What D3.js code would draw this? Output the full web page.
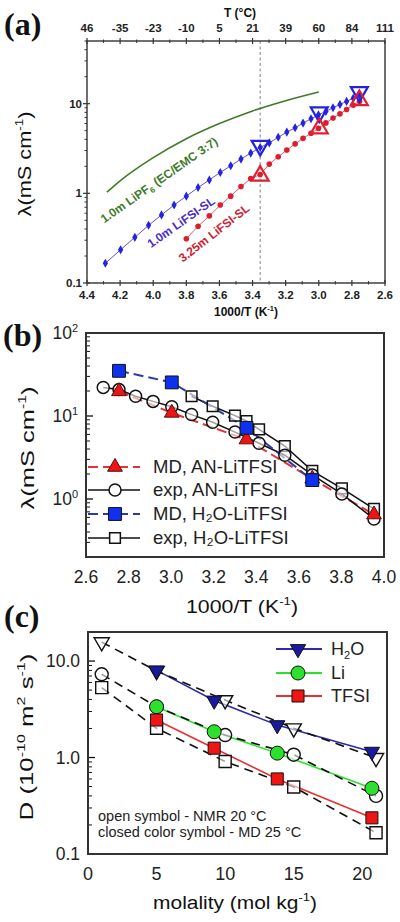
<!DOCTYPE html>
<html><head><meta charset="utf-8">
<script src="https://cdn.jsdelivr.net/npm/d3@7"></script>
<style>body{margin:0;background:#fff}svg{display:block}text{font-family:"Liberation Sans",Arial,sans-serif}</style>
</head><body><svg id="c" width="400" height="922"></svg>
<script>
// ---------- Panel (a) data ----------
const aXTicks = [4.4, 4.2, 4.0, 3.8, 3.6, 3.4, 3.2, 3.0, 2.8, 2.6];
const aXTickLabels = ["4.4","4.2","4.0","3.8","3.6","3.4","3.2","3.0","2.8","2.6"];
const aTopLabels = ["46","-35","-23","-10","5","21","39","60","84","111"];
const aYTicks = [0.1, 1, 10];
const aYTickLabels = ["0.1","1","10"];
const aRefX = 3.354;
const lipfX = [4.28, 4.2, 4.0, 3.8, 3.6, 3.4, 3.2, 3.0];
const lipfY = [1.03, 1.38, 2.5, 4.07, 6.0, 8.3, 10.8, 13.5];
const lifsi1X = [4.289,4.197,4.111,4.028,3.950,3.874,3.800,3.729,3.661,3.595,3.532,3.470,3.411,3.354,3.299,3.245,3.193,3.143,3.095,3.047,3.002,2.957,2.914,2.872,2.832,2.792,2.754];
const lifsi1Y = [0.166,0.235,0.323,0.44,0.575,0.74,0.93,1.16,1.41,1.71,2.03,2.41,2.81,3.25,3.65,4.22,4.82,5.38,6.07,6.78,7.5,8.2,9.0,9.8,10.6,11.5,12.4];
const lifsi3X = [3.800,3.729,3.661,3.595,3.532,3.470,3.411,3.354,3.299,3.245,3.193,3.143,3.095,3.047,3.002,2.957,2.914,2.872,2.832,2.792,2.754];
const lifsi3Y = [0.312,0.43,0.56,0.74,0.93,1.19,1.46,1.62,2.12,2.56,3.04,3.56,4.11,4.68,5.3,6.1,6.9,7.7,8.6,9.6,10.6];
const triBlueX = [3.354, 2.997, 2.755];
const triBlueY = [3.4, 8.0, 13.5];
const triRedX = [3.354, 2.997, 2.755];
const triRedY = [1.57, 5.3, 10.9];

// ---------- Panel (b) data ----------
const bXTicks = [2.6, 2.8, 3.0, 3.2, 3.4, 3.6, 3.8, 4.0];
const bXTickLabels = ["2.6","2.8","3.0","3.2","3.4","3.6","3.8","4.0"];
const bYTicks = [1, 10, 100];
const bYTickExp = ["0","1","2"];
const mdAnX = [2.755, 3.003, 3.354, 3.663, 3.953];
const mdAnY = [19.8, 10.9, 5.2, 1.75, 0.65];
const expAnX = [2.681, 2.755, 2.833, 2.915, 3.003, 3.096, 3.195, 3.300, 3.413, 3.534, 3.663, 3.802, 3.953];
const expAnY = [22.1, 20.8, 17.3, 15.0, 12.9, 10.4, 8.4, 6.4, 4.69, 3.37, 1.95, 1.15, 0.575];
const mdH2oX = [2.755, 3.003, 3.354, 3.663];
const mdH2oY = [35, 25.4, 7.2, 1.69];
const expH2oX = [3.096, 3.195, 3.300, 3.354, 3.413, 3.534, 3.663, 3.802, 3.953];
const expH2oY = [17.3, 13.1, 10.1, 8.7, 6.9, 4.35, 2.18, 1.34, 0.76];
const bLegend = ["MD, AN-LiTFSI", "exp, AN-LiTFSI", "MD, H₂O-LiTFSI", "exp, H₂O-LiTFSI"];

// ---------- Panel (c) data ----------
const cXTicks = [0, 5, 10, 15, 20];
const cYTicks = [0.1, 1, 10];
const cYTickLabels = ["0.1","1.0","10.0"];
const nmrX = [1, 5, 10, 15, 21];
const nmrH2o = [15.7, 7.9, 3.94, 2.01, 0.99];
const nmrLi = [7.3, 3.36, 1.71, 1.07, 0.40];
const nmrTfsi = [5.3, 2.01, 0.91, 0.495, 0.166];
const mdX = [5, 9.2, 13.8, 20.7];
const mdH2o = [8.0, 3.9, 2.17, 1.15];
const mdLi = [3.36, 1.85, 1.11, 0.48];
const mdTfsi = [2.45, 1.25, 0.60, 0.237];
const cLegend = ["H2O", "Li", "TFSI"];

const svg = d3.select("#c");
const FR = "#333";

function minorLogVals(lo, hi){
  const out=[];
  for(let d=Math.pow(10,Math.floor(Math.log10(lo))); d<hi; d*=10){
    for(let k=2;k<=9;k++){const v=k*d; if(v>=lo*0.999 && v<=hi*1.001) out.push(v);}
  }
  return out;
}
function vline(g,x,y1,y2,w,c){g.append("line").attr("x1",x).attr("x2",x).attr("y1",y1).attr("y2",y2).attr("stroke",c||FR).attr("stroke-width",w||1);}
function hline(g,y,x1,x2,w,c){g.append("line").attr("y1",y).attr("y2",y).attr("x1",x1).attr("x2",x2).attr("stroke",c||FR).attr("stroke-width",w||1);}
function frame(g,x,y,w){
  const [x0,x1]=x.range(), [y0,y1]=y.range();
  g.append("rect").attr("x",Math.min(x0,x1)).attr("y",Math.min(y0,y1)).attr("width",Math.abs(x1-x0)).attr("height",Math.abs(y1-y0))
   .attr("fill","none").attr("stroke",FR).attr("stroke-width",w);
}
function fitScale(t, len){
  const w = t.node().getComputedTextLength();
  return len/w;
}
function rotTitle(g, cx, cy, parts, size, len){
  const t = g.append("text").attr("text-anchor","middle").attr("font-size",size).attr("fill","#111");
  parts.forEach(p=>{
    const s=t.append("tspan").text(p.t);
    if(p.sup){s.attr("font-size",size*0.62).attr("dy",-size*0.4);} else if(p.after){s.attr("dy",size*0.4);}
  });
  const k = fitScale(t,len);
  t.attr("transform",`translate(${cx},${cy}) rotate(-90) scale(${k},1)`);
  t.attr("y", size*0.35);
  return t;
}
function hTitle(g, cx, by, parts, size, len, weight){
  const t = g.append("text").attr("text-anchor","middle").attr("font-size",size).attr("fill","#111").attr("font-weight",weight||"normal");
  parts.forEach(p=>{
    const s=t.append("tspan").text(p.t);
    if(p.sup){s.attr("font-size",size*0.62).attr("dy",-size*0.4);} else if(p.after){s.attr("dy",size*0.4);}
  });
  const k = len? fitScale(t,len):1;
  t.attr("transform",`translate(${cx},${by}) scale(${k},1)`);
  return t;
}
function panelLabel(x,y,s){
  svg.append("text").attr("x",x).attr("y",y)
    .style("font-family","'Liberation Serif','DejaVu Serif','Times New Roman',serif")
    .attr("font-weight","bold").attr("font-size",32).attr("fill","#111").text(s);
}

// ================= Panel (a) =================
{
  const x = d3.scaleLinear().domain([4.4,2.6]).range([87,385]);
  const y = d3.scaleLog().domain([0.1,50]).range([283,41]);
  const g = svg.append("g");
  const [yb, yt] = y.range();
  const [xl, xr] = x.range();
  g.append("line").attr("x1",x(aRefX)).attr("x2",x(aRefX)).attr("y1",yt).attr("y2",yb).attr("stroke","#777").attr("stroke-width",0.9).attr("stroke-dasharray","3,2.5");
  aXTicks.forEach((v,i)=>{
    vline(g,x(v),yb-3,yb+3,1.2); vline(g,x(v),yt-3,yt+3,1.2);
    g.append("text").attr("x",x(v)).attr("y",yb+16).attr("text-anchor","middle").attr("font-size",11.5).attr("font-weight","bold").attr("fill","#222").text(aXTickLabels[i]);
    g.append("text").attr("x",x(v)).attr("y",yt-9).attr("text-anchor","middle").attr("font-size",11.5).attr("font-weight","bold").attr("fill","#222").text(aTopLabels[i]);
  });
  d3.range(4.3,2.6,-0.2).forEach(v=>{vline(g,x(v),yb-2,yb+1.5,1); vline(g,x(v),yt-1.5,yt+2,1);});
  aYTicks.forEach((v,i)=>{
    hline(g,y(v),xl-4,xl+3,1.2);
    g.append("text").attr("x",xl-5).attr("y",y(v)).attr("dy","0.35em").attr("text-anchor","end").attr("font-size",11.5).attr("font-weight","bold").attr("fill","#222").text(aYTickLabels[i]);
  });
  minorLogVals(0.1,50).forEach(v=>hline(g,y(v),xl-2.5,xl,1));
  frame(g,x,y,1.4);
  hTitle(g,240,17,[{t:"T (°C)"}],12,null,"bold");
  hTitle(g,246,316,[{t:"1000/T (K"},{t:"-1",sup:true},{t:")",after:true}],12,null,"bold");
  rotTitle(g,24,164,[{t:"λ(mS cm"},{t:"-1",sup:true},{t:")",after:true}],19,105);
  g.append("path").datum(lipfX.map((v,i)=>[v,lipfY[i]])).attr("fill","none").attr("stroke","#3f7a2a").attr("stroke-width",1.6)
    .attr("d",d3.line().x(d=>x(d[0])).y(d=>y(d[1])).curve(d3.curveMonotoneX));
  const d1 = lifsi1X.map((v,i)=>[v,lifsi1Y[i]]);
  g.append("path").datum(d1).attr("fill","none").attr("stroke","#6a4fd0").attr("stroke-width",1)
    .attr("d",d3.line().x(d=>x(d[0])).y(d=>y(d[1])));
  g.selectAll(".dm").data(d1).join("path").attr("transform",d=>`translate(${x(d[0])},${y(d[1])})`)
    .attr("d",d3.symbol(d3.symbolDiamond,24)).attr("fill","#2323e0");
  const d3m = lifsi3X.map((v,i)=>[v,lifsi3Y[i]]);
  g.append("path").datum(d3m).attr("fill","none").attr("stroke","#e06070").attr("stroke-width",1)
    .attr("d",d3.line().x(d=>x(d[0])).y(d=>y(d[1])));
  g.selectAll(".rc").data(d3m).join("circle").attr("cx",d=>x(d[0])).attr("cy",d=>y(d[1])).attr("r",2.8).attr("fill","#dd1c2c");
  triBlueX.forEach((v,i)=>{
    g.append("path").attr("transform",`translate(${x(v)},${y(triBlueY[i])}) rotate(180)`).attr("d",d3.symbol(d3.symbolTriangle,125)).attr("fill","none").attr("stroke","#2222dd").attr("stroke-width",2.2);
  });
  triRedX.forEach((v,i)=>{
    g.append("path").attr("transform",`translate(${x(v)},${y(triRedY[i])})`).attr("d",d3.symbol(d3.symbolTriangle,125)).attr("fill","none").attr("stroke","#e02030").attr("stroke-width",2.2);
  });
  const l1 = g.append("text").attr("transform","translate(159,180) rotate(-35)").attr("text-anchor","middle").attr("dy","0.35em").attr("font-size",12).attr("font-weight","bold").attr("fill","#3f7a2a");
  l1.append("tspan").text("1.0m LiPF");
  l1.append("tspan").text("6").attr("font-size",8).attr("dy",3);
  l1.append("tspan").text(" (EC/EMC 3:7)").attr("dy",-3);
  g.append("text").attr("transform","translate(181,222) rotate(-35)").attr("text-anchor","middle").attr("dy","0.35em").attr("font-size",12).attr("font-weight","bold").attr("fill","#4a2ac8").text("1.0m LiFSI-SL");
  g.append("text").attr("transform","translate(214,233) rotate(-38)").attr("text-anchor","middle").attr("dy","0.35em").attr("font-size",12).attr("font-weight","bold").attr("fill","#d0202e").text("3.25m LiFSI-SL");
}
panelLabel(4,35,"(a)");

// ================= Panel (b) =================
{
  const x = d3.scaleLinear().domain([2.6,4.0]).range([86,384]);
  const y = d3.scaleLog().domain([0.2,100]).range([557,333]);
  const g = svg.append("g");
  const [xl] = x.range(); const [yb] = y.range();
  bXTicks.forEach((v,i)=>{
    g.append("text").attr("x",x(v)).attr("y",yb+26).attr("text-anchor","middle").attr("font-size",17.5).attr("fill","#222").text(bXTickLabels[i]);
  });
  bYTicks.forEach((v,i)=>{
    hline(g,y(v),xl,xl+7,1.3,"#111");
    const t=g.append("text").attr("x",xl-8).attr("y",y(v)+6).attr("text-anchor","end").attr("font-size",17.5).attr("fill","#222");
    t.append("tspan").text("10"); t.append("tspan").text(bYTickExp[i]).attr("font-size",11).attr("dy",-7);
  });
  minorLogVals(0.2,100).forEach(v=>hline(g,y(v),xl,xl+4,1,"#111"));
  frame(g,x,y,2);
  hTitle(g,242,613,[{t:"1000/T (K"},{t:"-1",sup:true},{t:")",after:true}],19,112);
  rotTitle(g,27,448,[{t:"λ(mS cm"},{t:"-1",sup:true},{t:")",after:true}],19,123);
  const line = d3.line().x(d=>x(d[0])).y(d=>y(d[1]));
  const dMdAn = mdAnX.map((v,i)=>[v,mdAnY[i]]);
  const dExpAn = expAnX.map((v,i)=>[v,expAnY[i]]);
  const dMdH = mdH2oX.map((v,i)=>[v,mdH2oY[i]]);
  const dExpH = expH2oX.map((v,i)=>[v,expH2oY[i]]);
  g.append("path").datum(dMdAn).attr("d",line).attr("fill","none").attr("stroke","#e03535").attr("stroke-width",2).attr("stroke-dasharray","10,5");
  g.append("path").datum(dExpAn).attr("d",line).attr("fill","none").attr("stroke","#111").attr("stroke-width",1.5);
  g.append("path").datum(dExpH).attr("d",line).attr("fill","none").attr("stroke","#111").attr("stroke-width",1.5);
  g.append("path").datum(dMdH).attr("d",line).attr("fill","none").attr("stroke","#2a3aa8").attr("stroke-width",2).attr("stroke-dasharray","10,5");
  const tri = d3.symbol(d3.symbolTriangle,95), sq = d3.symbol(d3.symbolSquare,165), sqo=d3.symbol(d3.symbolSquare,115);
  g.selectAll(".eh").data(dExpH).join("path").attr("transform",d=>`translate(${x(d[0])},${y(d[1])})`).attr("d",sqo).attr("fill","#fff").attr("fill-opacity",0.6).attr("stroke","#111").attr("stroke-width",1.5);
  g.selectAll(".ea").data(dExpAn).join("circle").attr("cx",d=>x(d[0])).attr("cy",d=>y(d[1])).attr("r",6).attr("fill","#fff").attr("fill-opacity",0.6).attr("stroke","#111").attr("stroke-width",1.5);
  g.selectAll(".ma").data(dMdAn).join("path").attr("transform",d=>`translate(${x(d[0])},${y(d[1])})`).attr("d",tri).attr("fill","#ee1414").attr("stroke","#551111").attr("stroke-width",1);
  g.selectAll(".mh").data(dMdH).join("path").attr("transform",d=>`translate(${x(d[0])},${y(d[1])})`).attr("d",sq).attr("fill","#1030f0").attr("stroke","#111").attr("stroke-width",1);
  const rows=[467,490,514,538];
  const styles=[
    {c:"#e03535",dash:"10,5",m:"tri"},{c:"#111",dash:null,m:"circ"},{c:"#2a3aa8",dash:"10,5",m:"sq"},{c:"#111",dash:null,m:"sqo"}];
  bLegend.forEach((s,i)=>{
    const yy=rows[i], st=styles[i];
    const l=g.append("line").attr("x1",88).attr("x2",140).attr("y1",yy).attr("y2",yy).attr("stroke",st.c).attr("stroke-width",st.dash?2:1.5);
    if(st.dash) l.attr("stroke-dasharray",st.dash);
    if(st.m==="tri") g.append("path").attr("transform",`translate(115,${yy})`).attr("d",tri).attr("fill","#ee1414").attr("stroke","#551111");
    if(st.m==="circ") g.append("circle").attr("cx",115).attr("cy",yy).attr("r",6).attr("fill","#fff").attr("stroke","#111").attr("stroke-width",1.5);
    if(st.m==="sq") g.append("path").attr("transform",`translate(115,${yy})`).attr("d",sq).attr("fill","#1030f0").attr("stroke","#111");
    if(st.m==="sqo") g.append("path").attr("transform",`translate(115,${yy})`).attr("d",sqo).attr("fill","#fff").attr("stroke","#111").attr("stroke-width",1.5);
    g.append("text").attr("x",153).attr("y",yy+6).attr("font-size",18.5).attr("fill","#222").text(s);
  });
}
panelLabel(3,346,"(b)");

// ================= Panel (c) =================
{
  const x = d3.scaleLinear().domain([0,21.8]).range([88,387]);
  const y = d3.scaleLog().domain([0.1,20]).range([854,632]);
  const g = svg.append("g");
  const [xl] = x.range(); const [yb] = y.range();
  cXTicks.forEach(v=>{
    g.append("text").attr("x",x(v)).attr("y",yb+26).attr("text-anchor","middle").attr("font-size",18).attr("fill","#222").text(v);
  });
  cYTicks.forEach((v,i)=>{
    hline(g,y(v),xl,xl+7,1.3,"#111");
    g.append("text").attr("x",xl-8).attr("y",y(v)+6).attr("text-anchor","end").attr("font-size",17.5).attr("fill","#222").text(cYTickLabels[i]);
  });
  minorLogVals(0.1,20).forEach(v=>hline(g,y(v),xl,xl+4,1,"#111"));
  frame(g,x,y,2);
  hTitle(g,235,909,[{t:"molality (mol kg"},{t:"-1",sup:true},{t:")",after:true}],19,164);
  rotTitle(g,26,737,[{t:"D (10"},{t:"-10",sup:true},{t:" m",after:true},{t:"2",sup:true},{t:" s",after:true},{t:"-1",sup:true},{t:")",after:true}],19,167);
  const line = d3.line().x(d=>x(d[0])).y(d=>y(d[1]));
  const triD = d3.symbol(d3.symbolTriangle,100), sq=d3.symbol(d3.symbolSquare,145);
  const nmr=[nmrH2o,nmrLi,nmrTfsi], md=[mdH2o,mdLi,mdTfsi];
  const cols=[{l:"#2c2ca8",f:"#1a1a9e"},{l:"#2ee02e",f:"#2ee02e"},{l:"#e83030",f:"#f01515"}];
  md.forEach((arr,k)=>{
    g.append("path").datum(mdX.map((v,i)=>[v,arr[i]])).attr("d",line).attr("fill","none").attr("stroke",cols[k].l).attr("stroke-width",1.6);
  });
  nmr.forEach(arr=>{
    g.append("path").datum(nmrX.map((v,i)=>[v,arr[i]])).attr("d",line).attr("fill","none").attr("stroke","#111").attr("stroke-width",1.6).attr("stroke-dasharray","9,6");
  });
  nmrX.forEach((v,i)=>{
    g.append("path").attr("transform",`translate(${x(v)},${y(nmrH2o[i])}) rotate(180)`).attr("d",triD).attr("fill","#fff").attr("fill-opacity",0.6).attr("stroke","#111").attr("stroke-width",1.4);
    g.append("circle").attr("cx",x(v)).attr("cy",y(nmrLi[i])).attr("r",6.5).attr("fill","#fff").attr("fill-opacity",0.6).attr("stroke","#111").attr("stroke-width",1.4);
    g.append("path").attr("transform",`translate(${x(v)},${y(nmrTfsi[i])})`).attr("d",sq).attr("fill","#fff").attr("fill-opacity",0.6).attr("stroke","#111").attr("stroke-width",1.4);
  });
  mdX.forEach((v,i)=>{
    g.append("path").attr("transform",`translate(${x(v)},${y(mdH2o[i])}) rotate(180)`).attr("d",triD).attr("fill",cols[0].f).attr("stroke","#111").attr("stroke-width",1);
    g.append("circle").attr("cx",x(v)).attr("cy",y(mdLi[i])).attr("r",7).attr("fill",cols[1].f).attr("stroke","#111").attr("stroke-width",1);
    g.append("path").attr("transform",`translate(${x(v)},${y(mdTfsi[i])})`).attr("d",sq).attr("fill",cols[2].f).attr("stroke","#111").attr("stroke-width",1);
  });
  const rows=[649,673,696];
  cLegend.forEach((s,k)=>{
    const yy=rows[k];
    g.append("line").attr("x1",276).attr("x2",322).attr("y1",yy).attr("y2",yy).attr("stroke",cols[k].l).attr("stroke-width",1.8);
    if(k===0) g.append("path").attr("transform",`translate(298,${yy}) rotate(180)`).attr("d",triD).attr("fill",cols[0].f).attr("stroke","#111");
    if(k===1) g.append("circle").attr("cx",298).attr("cy",yy).attr("r",7).attr("fill",cols[1].f).attr("stroke","#111");
    if(k===2) g.append("path").attr("transform",`translate(298,${yy})`).attr("d",sq).attr("fill",cols[2].f).attr("stroke","#111");
    const t=g.append("text").attr("x",331).attr("y",yy+6).attr("font-size",18).attr("fill","#222");
    if(s==="H2O"){t.append("tspan").text("H");t.append("tspan").text("2").attr("font-size",11).attr("dy",4);t.append("tspan").text("O").attr("dy",-4);}
    else t.text(s);
  });
  g.append("text").attr("x",98).attr("y",821).attr("font-size",14.5).attr("fill","#222").text("open symbol - NMR 20 °C");
  g.append("text").attr("x",98).attr("y",837).attr("font-size",14.5).attr("fill","#222").text("closed color symbol - MD 25 °C");
}
panelLabel(4,627,"(c)");
</script></body></html>
